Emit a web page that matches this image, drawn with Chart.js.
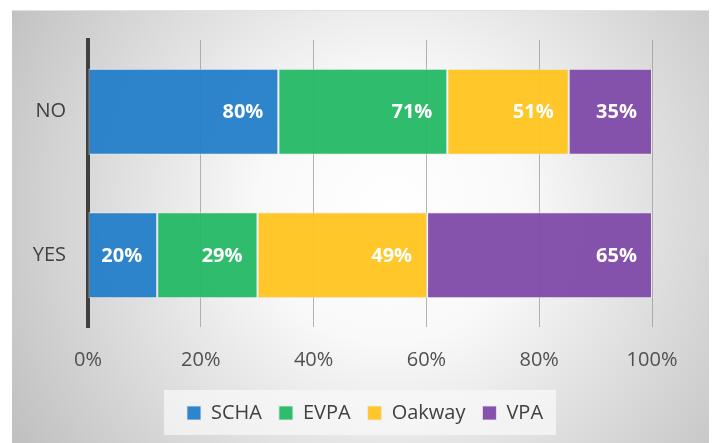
<!DOCTYPE html>
<html>
<head>
<meta charset="utf-8">
<script src="https://cdn.jsdelivr.net/npm/chart.js@4/dist/chart.umd.min.js"></script>
<style>
  html, body { margin: 0; padding: 0; background: #ffffff; }
  #wrap { width: 716px; height: 443px; position: relative; }
</style>
</head>
<body>
<div id="wrap"><canvas id="c" width="716" height="443"></canvas></div>
<script>
// ---- data ----
const categories = ['NO', 'YES'];
const seriesNames = ['SCHA', 'EVPA', 'Oakway', 'VPA'];
const schaValues = [80, 20];
const evpaValues = [71, 29];
const oakwayValues = [51, 49];
const vpaValues = [35, 65];
const xTickLabels = ['0%', '20%', '40%', '60%', '80%', '100%'];

const seriesValues = [schaValues, evpaValues, oakwayValues, vpaValues];
const seriesColors = ['rgba(36,126,200,0.95)', 'rgba(36,184,100,0.95)', 'rgba(255,196,30,0.95)', 'rgba(128,74,168,0.95)'];

// 100% stacked: each bar's share of its category total
const totals = categories.map((_, i) => seriesValues.reduce((s, arr) => s + arr[i], 0));
const datasets = seriesNames.map((name, k) => ({
  label: name,
  data: seriesValues[k].map((v, i) => v / totals[i] * 100),
  rawValues: seriesValues[k],
  backgroundColor: seriesColors[k],
  borderColor: 'rgba(235,235,235,0.8)',
  borderWidth: 1,
  borderSkipped: false,
  categoryPercentage: 0.6,
  barPercentage: 1.0
}));

const FONT = "'Open Sans', 'Liberation Sans', sans-serif";

const panelPlugin = {
  id: 'panel',
  beforeLayout(chart) {
    const lg = chart.legend;
    if (lg && !lg._fixed) {
      const f = lg.fit;
      lg.fit = function () { f.call(this); this.height = 66; };
      lg._fixed = true;
    }
  },
  afterLayout(chart) {
    const lg = chart.legend;
    if (lg) { lg.left += 33; lg.right += 33; lg.top += 9; lg.bottom += 9; }
  },
  beforeDraw(chart) {
    const ctx = chart.ctx;
    const x0 = 12, y0 = 10, x1 = 709, y1 = 443;
    ctx.save();
    const g = ctx.createRadialGradient(390, 210, 0, 390, 210, 440);
    g.addColorStop(0, '#ffffff');
    g.addColorStop(0.3, '#f9f9f9');
    g.addColorStop(1, '#c0c0c0');
    ctx.fillStyle = g;
    ctx.fillRect(x0, y0, x1 - x0, y1 - y0);
    ctx.strokeStyle = 'rgba(225,225,225,1)';
    ctx.lineWidth = 1;
    ctx.beginPath();
    ctx.moveTo(x0, y0 + 0.5); ctx.lineTo(x1, y0 + 0.5);
    ctx.stroke();
    // legend background box
    const lg = chart.legend;
    if (lg && lg.legendHitBoxes && lg.legendHitBoxes.length) {
      const hb = lg.legendHitBoxes;
      const l = Math.min(...hb.map(b => b.left)) - 23;
      const r = Math.max(...hb.map(b => b.left + b.width)) + 13;
      ctx.fillStyle = 'rgba(250,250,250,0.7)';
      ctx.fillRect(l, 390, r - l, 45);
    }
    ctx.restore();
  }
};

const labelPlugin = {
  id: 'segLabels',
  afterDatasetsDraw(chart) {
    const ctx = chart.ctx;
    ctx.save();
    ctx.font = 'bold 20px ' + FONT;
    ctx.fillStyle = '#ffffff';
    ctx.textAlign = 'right';
    ctx.textBaseline = 'middle';
    chart.data.datasets.forEach((ds, k) => {
      const meta = chart.getDatasetMeta(k);
      meta.data.forEach((el, i) => {
        ctx.fillText(ds.rawValues[i] + '%', el.x - 15, el.y + 1);
      });
    });
    ctx.restore();
  }
};

new Chart(document.getElementById('c'), {
  type: 'bar',
  data: { labels: categories, datasets: datasets },
  options: {
    indexAxis: 'y',
    responsive: false,
    animation: false,
    layout: { padding: { left: 12, right: 64, top: 40, bottom: 0 } },
    scales: {
      x: {
        stacked: true,
        min: 0,
        max: 100,
        afterFit: s => { s.height = 50; },
        border: { display: false },
        grid: { color: 'rgba(150,150,150,0.7)', lineWidth: 1, drawTicks: false },
        ticks: {
          stepSize: 20,
          padding: 21,
          color: '#505050',
          font: { family: FONT, size: 20 },
          callback: (v) => xTickLabels[Math.round(v / 20)]
        }
      },
      y: {
        stacked: true,
        afterFit: s => { s.width = 76; },
        border: { display: true, color: '#404040', width: 4 },
        grid: { display: false, drawTicks: false },
        ticks: {
          padding: 22,
          color: '#404040',
          font: { family: FONT, size: 20 }
        }
      }
    },
    plugins: {
      legend: {
        position: 'bottom',
        labels: {
          boxWidth: 14,
          boxHeight: 14,
          padding: 17,
          color: '#404040',
          font: { family: FONT, size: 20 }
        }
      },
      tooltip: { enabled: false }
    }
  },
  plugins: [panelPlugin, labelPlugin]
});
</script>
</body>
</html>
